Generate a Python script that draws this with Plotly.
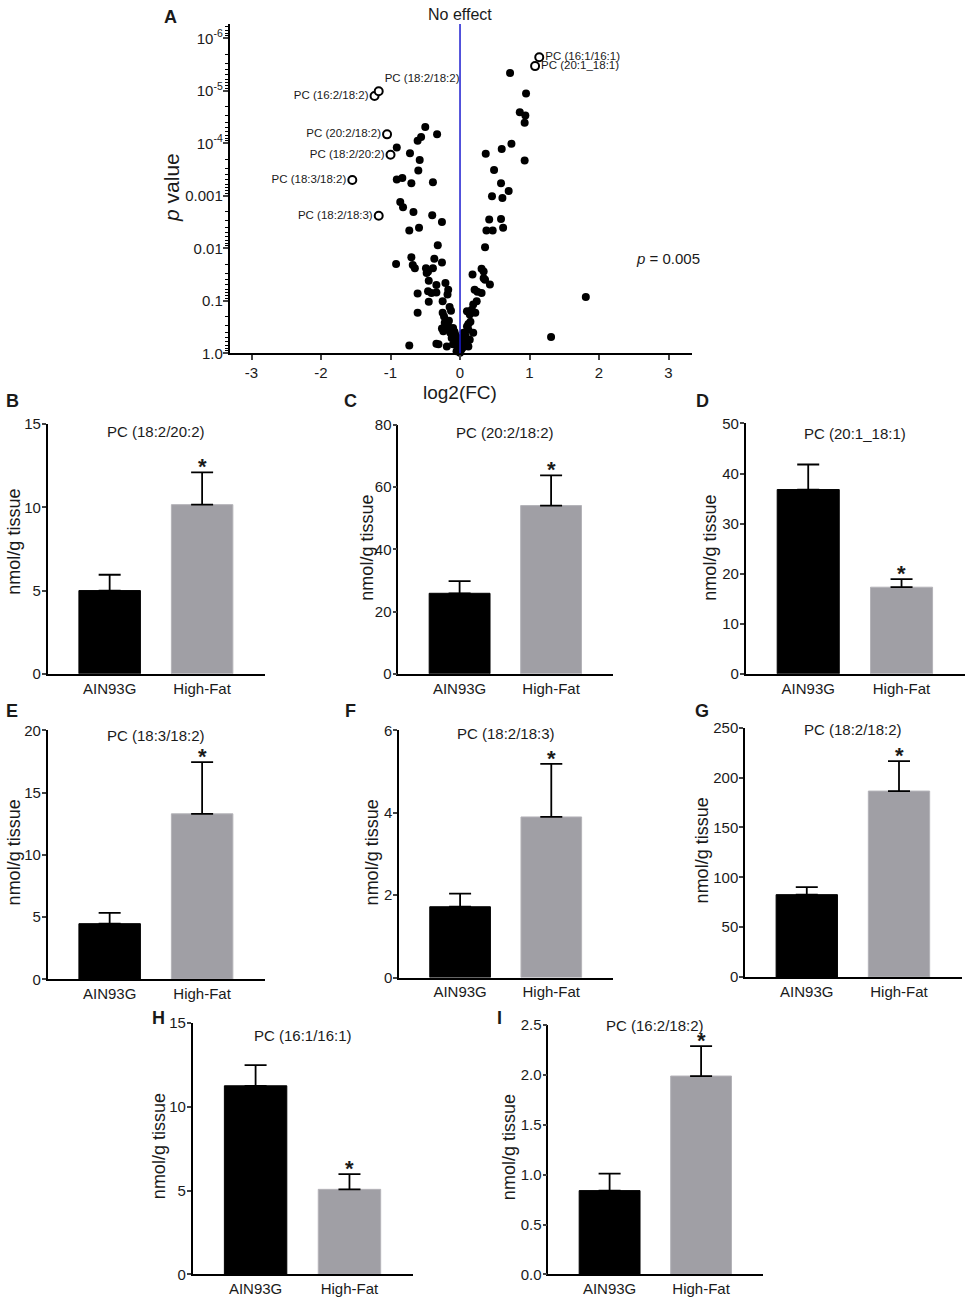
import math
import plotly.graph_objects as go

W, H = 965, 1307
# the photo of the page spans page rows -8 .. 1307 squeezed into 1299 rows,
# so reference pixel rows are mapped back to page rows with these two numbers
SQUEEZE = 1315 / 1299
TOP = 8

# ---- panel A: volcano (log2 fold change vs -log10 p)
fc_dots = [
    -0.50, -0.33, -0.56, -0.61, -0.91, -0.72, -0.58, -0.60, -0.91, -0.83, -0.70, -0.39,
    -0.86, -0.82, -0.67, -0.40, -0.26, -0.73, -0.59, -0.32, -0.70, -0.92, -0.68, -0.65,
    -0.37, -0.26, -0.49, -0.46, -0.48, -0.39, -0.45, -0.34, -0.21, -0.61, -0.46, -0.41,
    -0.34, -0.17, -0.18, -0.45, -0.25, -0.15, -0.13, -0.61, -0.25, -0.23, -0.22, -0.17,
    -0.26, -0.24, -0.14, -0.10, -0.07, -0.12, -0.05, -0.10, -0.31, -0.19, -0.34, -0.73,
    -0.02, 0.00, -0.05, 0.00, -0.03, -0.04, -0.08, -0.16,
    0.72, 0.95, 0.86, 0.94, 0.93, 0.74, 0.60, 0.37, 0.93, 0.49, 0.59, 0.70,
    0.46, 0.61, 0.42, 0.59, 0.38, 0.47, 0.62, 0.36, 0.31, 0.34, 0.18, 0.36,
    0.43, 0.34, 0.21, 0.25, 0.31, 1.81, 1.31, 0.24, 0.19, 0.17, 0.10, 0.22,
    0.14, 0.10, 0.12, 0.19, 0.05, 0.07, 0.14, 0.10, 0.02, 0.12, 0.02, 0.12,
    0.03, 0.06, 0.04, 0.01, 0.08, 0.15,
]
nlogp_dots = [
    4.31, 4.17, 4.12, 4.05, 3.92, 3.81, 3.68, 3.48, 3.31, 3.34, 3.24, 3.26,
    2.88, 2.78, 2.69, 2.63, 2.50, 2.34, 2.39, 2.06, 1.83, 1.70, 1.68, 1.62,
    1.80, 1.73, 1.62, 1.56, 1.53, 1.62, 1.38, 1.30, 1.34, 1.14, 1.18, 1.15,
    1.16, 1.21, 1.12, 0.98, 0.99, 0.88, 0.81, 0.77, 0.77, 0.70, 0.58, 0.51,
    0.47, 0.42, 0.39, 0.48, 0.36, 0.29, 0.23, 0.17, 0.17, 0.13, 0.18, 0.15,
    0.10, 0.04, 0.04, 0.01, 0.27, 0.14, 0.41, 0.62,
    5.34, 4.95, 4.59, 4.53, 4.39, 3.99, 3.89, 3.80, 3.67, 3.49, 3.24, 3.09,
    2.99, 2.96, 2.55, 2.56, 2.34, 2.34, 2.39, 2.02, 1.61, 1.56, 1.50, 1.40,
    1.31, 1.43, 1.21, 1.17, 1.15, 1.07, 0.31, 0.99, 0.93, 0.83, 0.80, 0.77,
    0.74, 0.51, 0.45, 0.39, 0.39, 0.29, 0.26, 0.20, 0.17, 0.13, 0.07, 0.56,
    0.30, 0.21, 0.11, 0.20, 0.33, 0.60,
]

named_species = ["PC (16:2/18:2)", "PC (18:2/18:2)", "PC (20:2/18:2)", "PC (18:2/20:2)",
                 "PC (18:3/18:2)", "PC (18:2/18:3)", "PC (16:1/16:1)", "PC (20:1_18:1)"]
fc_named = [-1.23, -1.17, -1.05, -1.00, -1.55, -1.17, 1.14, 1.08]
nlogp_named = [4.90, 4.99, 4.17, 3.78, 3.30, 2.62, 5.64, 5.47]
label_side = ["middle left", "top right", "middle left", "middle left",
              "middle left", "middle left", "middle right", "middle right"]

fc_ticks = [-3, -2, -1, 0, 1, 2, 3]
fc_tick_text = ["-3", "-2", "-1", "0", "1", "2", "3"]
p_ticks = [1e-6, 1e-5, 1e-4, 1e-3, 1e-2, 1e-1, 1.0]
p_tick_text = ["10<sup>-6</sup>", "10<sup>-5</sup>", "10<sup>-4</sup>", "0.001", "0.01", "0.1", "1.0"]
P_LINE = 0.052

# ---- panels B-I: bar charts
groups = ["AIN93G", "High-Fat"]
panel_ids = ["B", "C", "D", "E", "F", "G", "H", "I"]
panel_titles = ["PC (18:2/20:2)", "PC (20:2/18:2)", "PC (20:1_18:1)", "PC (18:3/18:2)",
                "PC (18:2/18:3)", "PC (18:2/18:2)", "PC (16:1/16:1)", "PC (16:2/18:2)"]
ain_mean = [5.0, 25.9, 36.8, 4.47, 1.72, 82.6, 11.25, 0.84]
ain_sem = [0.95, 3.9, 5.0, 0.86, 0.32, 7.6, 1.23, 0.17]
hf_mean = [10.16, 54.1, 17.3, 13.3, 3.90, 186.5, 5.07, 1.99]
hf_sem = [1.94, 9.7, 1.6, 4.15, 1.29, 30.1, 0.91, 0.30]
y_max = [15, 80, 50, 20, 6, 250, 15, 2.5]
y_step = [5, 20, 10, 5, 2, 50, 5, 0.5]

# pixel boxes of each bar panel: (left, right, top, bottom), plus label / title spots
boxes = [(47.7, 265, 423.3, 673.3), (398.3, 613.3, 424.3, 673.3), (745.7, 965, 422.7, 673.3),
         (47.7, 265, 730, 979), (399, 613.3, 730, 977.3), (745, 961.7, 727.3, 976.7),
         (192.7, 413.3, 1022.7, 1274.3), (548.3, 763.3, 1025, 1274.3)]
letter_pos = [(12, 400), (350, 400), (702, 400), (12, 711), (350, 710), (702, 710),
              (158, 1018), (500, 1018)]
title_y = [431, 432, 433, 735, 733, 729, 1035, 1025]
ytitle_pos = [(14, 541), (367, 547), (710, 547), (14, 852), (372, 852), (702, 850),
              (159, 1146), (509, 1147)]

FONT = "Arial, Liberation Sans, sans-serif"
INK = "#1a1a1a"
BLUE = "#1c1cd0"


def fx(px):
    return px / W


def fy(py):
    return 1 - (py * SQUEEZE - TOP) / H


def note(text, x, y, size, **kw):
    d = dict(text=text, x=x, y=y, xref="paper", yref="paper", showarrow=False,
             xanchor="center", yanchor="middle", font=dict(size=size))
    d.update(kw)
    return d


fig = go.Figure()

# volcano
fig.add_trace(go.Scatter(
    x=fc_dots, y=[10 ** (-v) for v in nlogp_dots], mode="markers",
    marker=dict(color="black", size=8), cliponaxis=False, xaxis="x", yaxis="y",
))
fig.add_trace(go.Scatter(
    x=fc_named, y=[10 ** (-v) for v in nlogp_named], mode="markers+text",
    text=named_species, textposition=label_side,
    textfont=dict(size=11.5, color=INK, family=FONT),
    marker=dict(color="white", size=8, line=dict(color="black", width=2)),
    cliponaxis=False, xaxis="x", yaxis="y",
))

minor_vals = [m * 10 ** k for k in range(-7, 0) for m in range(2, 10)]

layout = dict(
    width=W, height=H, margin=dict(l=0, r=0, t=0, b=0),
    paper_bgcolor="white", plot_bgcolor="white", showlegend=False,
    font=dict(family=FONT, color=INK, size=15),
    xaxis=dict(
        domain=[fx(229.5), fx(692)], range=[-3.317, 3.338],
        tickvals=fc_ticks, ticktext=fc_tick_text, ticks="outside", ticklen=5, tickwidth=1.5,
        showline=True, linecolor="black", linewidth=1.5, showgrid=False, zeroline=False,
        tickfont=dict(size=15), anchor="y",
    ),
    yaxis=dict(
        domain=[fy(352.5), fy(23)], type="log", range=[0, -6.27],
        tickvals=p_ticks, ticktext=p_tick_text, ticks="outside", ticklen=5, tickwidth=1.5,
        ticklabelstandoff=-3,
        minor=dict(tickvals=minor_vals, ticks="outside", ticklen=2.5, tickwidth=1,
                   tickcolor="black"),
        showline=True, linecolor="black", linewidth=1.5, showgrid=False, zeroline=False,
        tickfont=dict(size=15), anchor="x",
    ),
)

shapes = [
    dict(type="line", xref="x", yref="y domain", x0=0, x1=0, y0=0, y1=1,
         line=dict(color=BLUE, width=1.5)),
    dict(type="line", xref="x domain", yref="y", x0=0, x1=1,
         y0=math.log10(P_LINE), y1=math.log10(P_LINE), line=dict(color=BLUE, width=1.5)),
]
annotations = [
    note("<b>A</b>", fx(170), fy(16), 18),
    note("No effect", 0, fy(13), 16, xref="x"),
    note("<i>p</i> = 0.005", fx(668), fy(258), 15),
    note("<i>p</i> value", fx(172), fy(187), 21, textangle=-90),
    note("log2(FC)", 0, fy(392), 19, xref="x"),
]

# bar panels
for i in range(len(panel_ids)):
    n = i + 2
    xa, ya = f"x{n}", f"y{n}"
    left, right, top, bottom = boxes[i]
    fig.add_trace(go.Bar(
        x=groups, y=[ain_mean[i], hf_mean[i]], width=0.665,
        marker=dict(color=["#000000", "#a09fa5"],
                    line=dict(color=["#000000", "#b4b3b8"], width=1)),
        error_y=dict(type="data", symmetric=False, array=[ain_sem[i], hf_sem[i]],
                     arrayminus=[0, 0], color="black", thickness=1.8, width=11),
        xaxis=xa, yaxis=ya,
    ))
    layout[f"xaxis{n}"] = dict(
        domain=[fx(left), fx(right)], range=[-0.67, 1.68], type="category",
        showline=True, linecolor="black", linewidth=1.5, ticks="", showgrid=False,
        tickfont=dict(size=15), anchor=ya,
    )
    layout[f"yaxis{n}"] = dict(
        domain=[fy(bottom), fy(top)], range=[0, y_max[i]], dtick=y_step[i], tick0=0,
        tickformat=".1f" if y_step[i] < 1 else "d",
        showline=True, linecolor="black", linewidth=1.5, ticks="outside", ticklen=4,
        ticklabelstandoff=-2,
        tickwidth=1.5, showgrid=False, zeroline=False, tickfont=dict(size=15), anchor=xa,
    )
    lx, ly = letter_pos[i]
    annotations.append(note(f"<b>{panel_ids[i]}</b>", fx(lx), fy(ly), 18))
    annotations.append(note(panel_titles[i], 0.5, fy(title_y[i]), 15, xref=xa))
    tx, ty = ytitle_pos[i]
    annotations.append(note("nmol/g tissue", fx(tx), fy(ty), 18, textangle=-90))
    annotations.append(note("<b>*</b>", 1, hf_mean[i] + hf_sem[i], 22, xref=xa, yref=ya,
                            yanchor="bottom", yshift=-9))

layout["shapes"] = shapes
layout["annotations"] = annotations
fig.update_layout(**layout)

page_fix = "document.body.style.margin = '0';"
fig.write_html("out.html", config={"displayModeBar": False}, post_script=page_fix)
